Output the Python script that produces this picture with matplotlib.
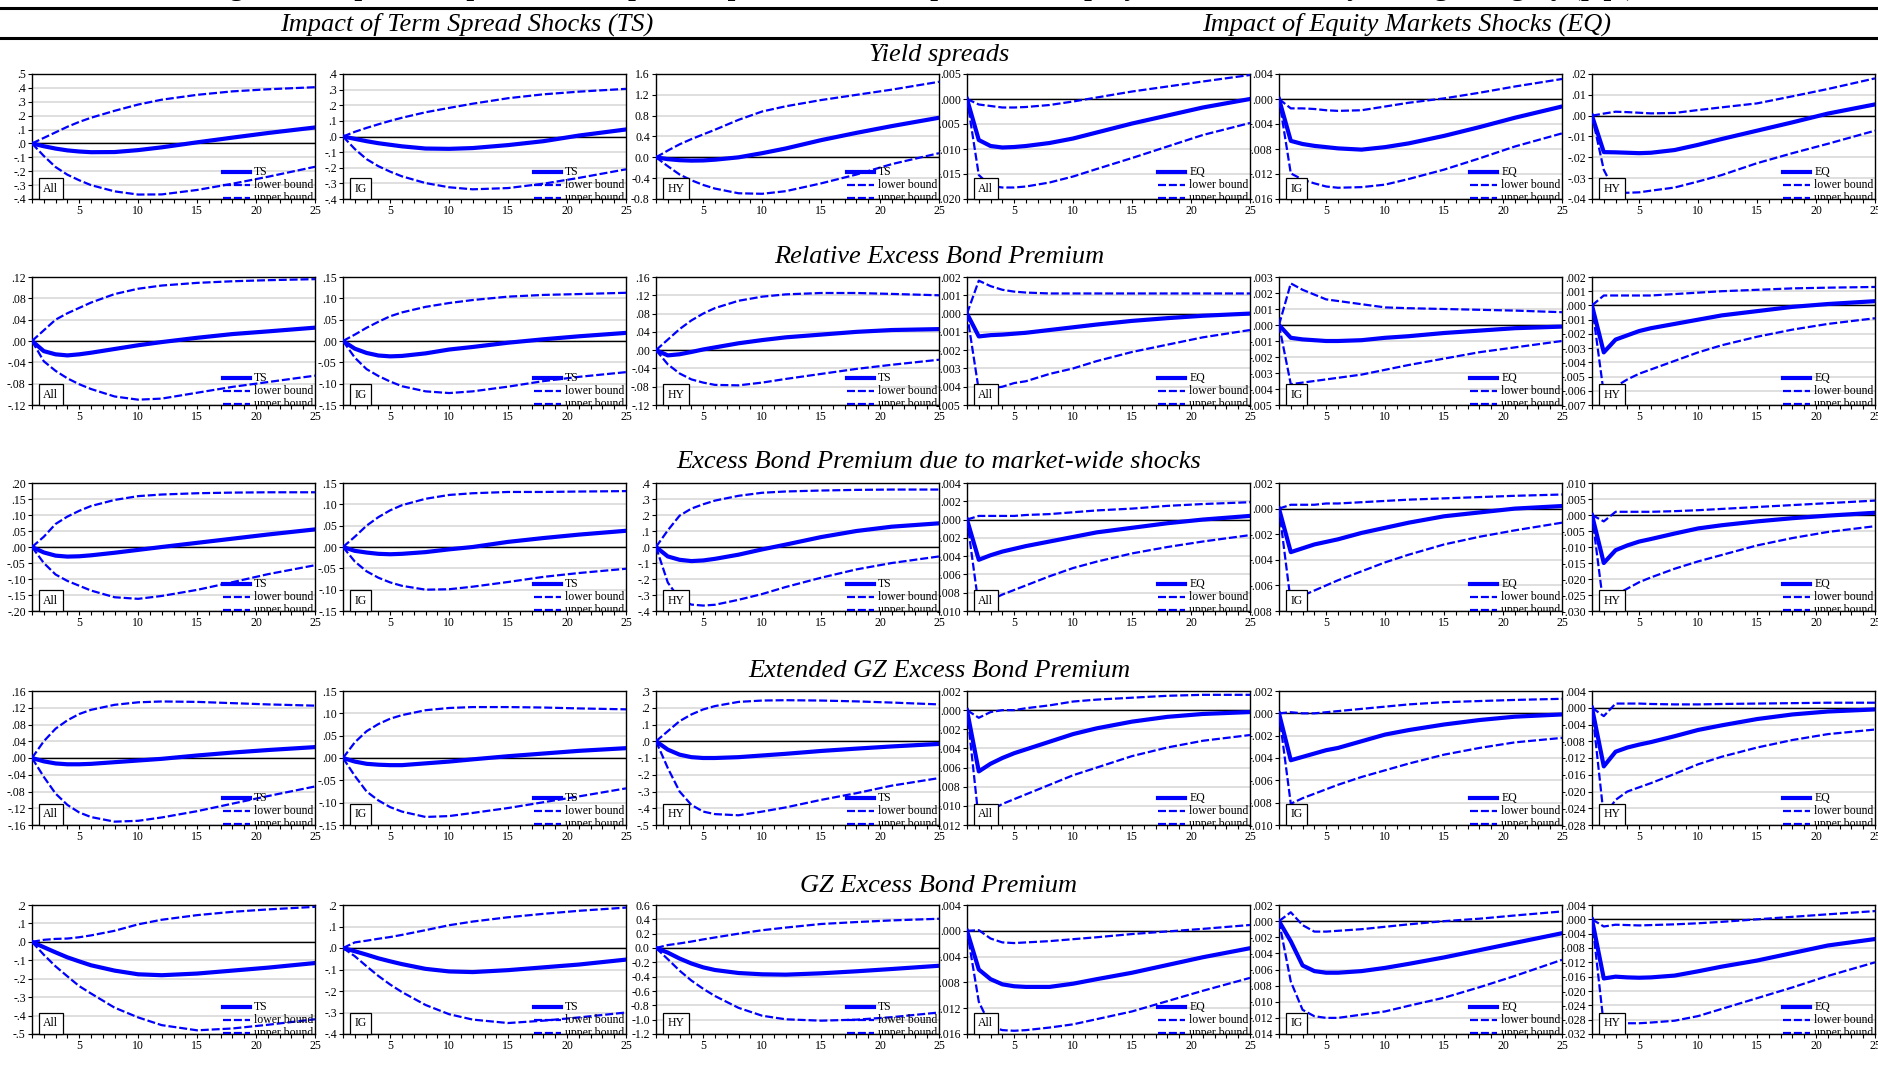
import matplotlib
matplotlib.use("Agg")
import matplotlib.pyplot as plt
from matplotlib.lines import Line2D
from matplotlib.ticker import FixedLocator, MultipleLocator, FuncFormatter
import numpy as np

plt.rcParams['font.family'] = ['Liberation Serif', 'DejaVu Serif']

horizon = [1, 2, 3, 4, 5, 6, 8, 10, 12, 15, 18, 21, 25]

groups = ["All", "IG", "HY", "All", "IG", "HY"]
shocks = ["TS", "TS", "TS", "EQ", "EQ", "EQ"]
row_titles = ["Yield spreads", "Relative Excess Bond Premium",
              "Excess Bond Premium due to market-wide shocks",
              "Extended GZ Excess Bond Premium", "GZ Excess Bond Premium"]

# ---- row 1: yield spreads
ys_resp = [
    [0, -0.02, -0.037, -0.05, -0.058, -0.063, -0.062, -0.048, -0.028, 0.008, 0.042, 0.075, 0.115],
    [0, -0.015, -0.03, -0.043, -0.053, -0.063, -0.077, -0.079, -0.074, -0.055, -0.03, 0.006, 0.045],
    [0, -0.035, -0.055, -0.063, -0.06, -0.045, 0.0, 0.08, 0.17, 0.33, 0.47, 0.6, 0.76],
    [0, -0.0082, -0.0094, -0.0097, -0.0096, -0.0094, -0.0088, -0.0079, -0.0067, -0.0049, -0.0033, -0.0017, 0.0],
    [0, -0.0067, -0.0072, -0.0075, -0.0077, -0.0079, -0.0081, -0.0077, -0.0071, -0.0059, -0.0045, -0.003, -0.0012],
    [0, -0.0175, -0.0176, -0.0178, -0.018, -0.0178, -0.0165, -0.014, -0.0112, -0.0072, -0.0032, 0.001, 0.0054],
]
ys_lo = [
    [0, -0.09, -0.17, -0.225, -0.265, -0.30, -0.345, -0.368, -0.367, -0.335, -0.29, -0.24, -0.168],
    [0, -0.08, -0.145, -0.19, -0.225, -0.255, -0.298, -0.325, -0.338, -0.33, -0.302, -0.265, -0.21],
    [0, -0.17, -0.33, -0.44, -0.53, -0.6, -0.69, -0.70, -0.65, -0.5, -0.33, -0.13, 0.08],
    [0, -0.0152, -0.0174, -0.0177, -0.0177, -0.0175, -0.0167, -0.0155, -0.014, -0.0118, -0.0095, -0.0072, -0.0048],
    [0, -0.0119, -0.0129, -0.0135, -0.014, -0.0142, -0.0141, -0.0137, -0.0128, -0.0113, -0.0095, -0.0076, -0.0055],
    [0, -0.026, -0.037, -0.037, -0.0368, -0.036, -0.0345, -0.0316, -0.0285, -0.0228, -0.018, -0.0135, -0.0072],
]
ys_up = [
    [0, 0.04, 0.08, 0.12, 0.155, 0.185, 0.235, 0.28, 0.315, 0.35, 0.375, 0.39, 0.405],
    [0, 0.03, 0.055, 0.078, 0.10, 0.12, 0.155, 0.183, 0.21, 0.245, 0.27, 0.287, 0.305],
    [0, 0.13, 0.25, 0.35, 0.44, 0.53, 0.72, 0.88, 0.98, 1.1, 1.2, 1.3, 1.45],
    [0, -0.0011, -0.0014, -0.0017, -0.0017, -0.0016, -0.0012, -0.0005, 0.0003, 0.0015, 0.0025, 0.0035, 0.0048],
    [0, -0.0015, -0.0015, -0.0016, -0.0018, -0.0019, -0.0018, -0.0012, -0.0006, 0.0001, 0.001, 0.002, 0.0032],
    [0, 0.001, 0.0019, 0.0017, 0.0014, 0.0011, 0.0013, 0.0027, 0.004, 0.0059, 0.0093, 0.0128, 0.0179],
]
ys_ylim = [(-0.4, 0.5), (-0.4, 0.4), (-0.8, 1.6), (-0.020, 0.005), (-0.016, 0.004), (-0.04, 0.02)]
ys_step = [0.1, 0.1, 0.4, 0.005, 0.004, 0.01]
ys_dec = [1, 1, 1, 3, 3, 2]
ys_lead0 = [False, False, True, False, False, False]

# ---- row 2: relative excess bond premium
rebp_resp = [
    [0, -0.019, -0.025, -0.027, -0.025, -0.022, -0.015, -0.008, -0.002, 0.006, 0.013, 0.018, 0.025],
    [0, -0.018, -0.028, -0.034, -0.036, -0.035, -0.029, -0.02, -0.014, -0.004, 0.004, 0.011, 0.019],
    [0, -0.0115, -0.009, -0.004, 0.0015, 0.006, 0.015, 0.022, 0.028, 0.034, 0.04, 0.044, 0.046],
    [0, -0.00125, -0.00118, -0.00115, -0.0011, -0.00105, -0.0009, -0.00075, -0.0006, -0.0004, -0.00025, -0.00012, 0.0],
    [0, -0.0008, -0.0009, -0.00095, -0.001, -0.001, -0.00095, -0.0008, -0.0007, -0.0005, -0.00035, -0.0002, -0.0001],
    [0, -0.0033, -0.0024, -0.0021, -0.0018, -0.0016, -0.0013, -0.001, -0.0007, -0.0004, -0.0001, 0.0001, 0.0003],
]
rebp_lo = [
    [0, -0.038, -0.056, -0.07, -0.081, -0.09, -0.104, -0.11, -0.108, -0.097, -0.086, -0.077, -0.065],
    [0, -0.039, -0.066, -0.082, -0.095, -0.106, -0.118, -0.122, -0.118, -0.107, -0.094, -0.084, -0.073],
    [0, -0.031, -0.051, -0.064, -0.071, -0.076, -0.077, -0.071, -0.063, -0.052, -0.041, -0.032, -0.021],
    [0, -0.0042, -0.0041, -0.004, -0.0038, -0.0037, -0.0033, -0.003, -0.0026, -0.0021, -0.0017, -0.0013, -0.0009],
    [0, -0.0037, -0.0036, -0.0035, -0.0034, -0.0033, -0.0031, -0.0028, -0.0025, -0.0021, -0.0017, -0.0014, -0.001],
    [0, -0.0062, -0.0057, -0.0052, -0.0048, -0.0045, -0.0039, -0.0033, -0.0028, -0.0022, -0.0017, -0.0013, -0.0009],
]
rebp_up = [
    [0, 0.02, 0.04, 0.052, 0.062, 0.072, 0.088, 0.098, 0.104, 0.109, 0.112, 0.114, 0.116],
    [0, 0.015, 0.031, 0.045, 0.058, 0.067, 0.08, 0.089, 0.096, 0.104, 0.108, 0.11, 0.113],
    [0, 0.023, 0.046, 0.065, 0.08, 0.092, 0.108, 0.117, 0.122, 0.125, 0.125, 0.123, 0.12],
    [0, 0.0018, 0.0015, 0.0013, 0.0012, 0.00115, 0.0011, 0.0011, 0.0011, 0.0011, 0.0011, 0.0011, 0.0011],
    [0, 0.0026, 0.0022, 0.0019, 0.0016, 0.0015, 0.0013, 0.0011, 0.00105, 0.001, 0.00095, 0.0009, 0.0008],
    [0, 0.0007, 0.0007, 0.0007, 0.0007, 0.0007, 0.0008, 0.0009, 0.001, 0.0011, 0.0012, 0.00125, 0.0013],
]
rebp_ylim = [(-0.12, 0.12), (-0.15, 0.15), (-0.12, 0.16), (-0.005, 0.002), (-0.005, 0.003), (-0.007, 0.002)]
rebp_step = [0.04, 0.05, 0.04, 0.001, 0.001, 0.001]
rebp_dec = [2, 2, 2, 3, 3, 3]
rebp_lead0 = [False] * 6

# ---- row 3: excess bond premium due to market-wide shocks
mebp_resp = [
    [0, -0.017, -0.027, -0.03, -0.029, -0.026, -0.018, -0.009, 0.0, 0.013, 0.026, 0.039, 0.055],
    [0, -0.009, -0.013, -0.016, -0.017, -0.016, -0.012, -0.0055, 0.0, 0.012, 0.021, 0.029, 0.038],
    [0, -0.059, -0.08, -0.088, -0.084, -0.074, -0.048, -0.015, 0.015, 0.062, 0.1, 0.127, 0.148],
    [0, -0.0044, -0.0039, -0.0035, -0.0032, -0.0029, -0.0024, -0.0019, -0.0014, -0.0009, -0.0004, 0.0, 0.0004],
    [0, -0.0034, -0.0031, -0.0028, -0.0026, -0.0024, -0.0019, -0.0015, -0.0011, -0.0006, -0.0003, 0.0, 0.0002],
    [0, -0.015, -0.011, -0.0095, -0.0083, -0.0075, -0.0058, -0.0042, -0.0032, -0.002, -0.001, -0.0002, 0.0007],
]
mebp_lo = [
    [0, -0.05, -0.086, -0.106, -0.121, -0.136, -0.157, -0.162, -0.153, -0.134, -0.11, -0.085, -0.057],
    [0, -0.034, -0.057, -0.072, -0.083, -0.091, -0.1, -0.099, -0.093, -0.082, -0.07, -0.061, -0.051],
    [0, -0.222, -0.325, -0.36, -0.366, -0.361, -0.33, -0.294, -0.25, -0.192, -0.14, -0.1, -0.059],
    [0, -0.0095, -0.0088, -0.0082, -0.0077, -0.0072, -0.0062, -0.0053, -0.0046, -0.0037, -0.003, -0.0024, -0.0017],
    [0, -0.0073, -0.0068, -0.0064, -0.006, -0.0056, -0.0049, -0.0042, -0.0036, -0.0028, -0.0022, -0.0017, -0.0011],
    [0, -0.029, -0.025, -0.023, -0.021, -0.0195, -0.0168, -0.0145, -0.0125, -0.0095, -0.0072, -0.0053, -0.0035],
]
mebp_up = [
    [0, 0.032, 0.072, 0.095, 0.113, 0.128, 0.147, 0.159, 0.164, 0.168, 0.17, 0.171, 0.171],
    [0, 0.024, 0.05, 0.07, 0.086, 0.098, 0.113, 0.122, 0.126, 0.129, 0.129, 0.13, 0.131],
    [0, 0.104, 0.196, 0.24, 0.267, 0.29, 0.32, 0.339, 0.347, 0.353, 0.357, 0.359, 0.359],
    [0, 0.0004, 0.0004, 0.0004, 0.0004, 0.0005, 0.0006, 0.0008, 0.001, 0.0012, 0.0015, 0.0017, 0.0019],
    [0, 0.0003, 0.0003, 0.0003, 0.0004, 0.0004, 0.0005, 0.0006, 0.0007, 0.0008, 0.0009, 0.001, 0.0011],
    [0, -0.002, 0.001, 0.001, 0.001, 0.001, 0.0012, 0.0015, 0.0019, 0.0025, 0.0031, 0.0037, 0.0045],
]
mebp_ylim = [(-0.2, 0.2), (-0.15, 0.15), (-0.4, 0.4), (-0.010, 0.004), (-0.008, 0.002), (-0.030, 0.010)]
mebp_step = [0.05, 0.05, 0.1, 0.002, 0.002, 0.005]
mebp_dec = [2, 2, 1, 3, 3, 3]
mebp_lead0 = [False] * 6

# ---- row 4: extended GZ excess bond premium
xgz_resp = [
    [0, -0.008, -0.013, -0.015, -0.015, -0.014, -0.01, -0.006, -0.002, 0.006, 0.013, 0.019, 0.026],
    [0, -0.008, -0.013, -0.015, -0.016, -0.016, -0.012, -0.008, -0.003, 0.004, 0.01, 0.016, 0.022],
    [0, -0.05, -0.08, -0.095, -0.1, -0.1, -0.095, -0.085, -0.075, -0.058, -0.044, -0.031, -0.016],
    [0, -0.0064, -0.0056, -0.005, -0.0045, -0.0041, -0.0033, -0.0025, -0.0019, -0.0012, -0.0007, -0.0004, -0.0002],
    [0, -0.0042, -0.0039, -0.0036, -0.0033, -0.0031, -0.0025, -0.0019, -0.0015, -0.001, -0.0006, -0.0003, -0.0001],
    [0, -0.014, -0.0105, -0.0095, -0.0088, -0.0082, -0.0068, -0.0053, -0.0042, -0.0027, -0.0016, -0.0009, -0.0004],
]
xgz_lo = [
    [0, -0.045, -0.085, -0.112, -0.13, -0.141, -0.152, -0.15, -0.142, -0.127, -0.109, -0.091, -0.068],
    [0, -0.04, -0.075, -0.095, -0.11, -0.12, -0.132, -0.13, -0.123, -0.112, -0.099, -0.086, -0.068],
    [0, -0.16, -0.3, -0.38, -0.42, -0.435, -0.442, -0.42, -0.395, -0.35, -0.31, -0.265, -0.22],
    [0, -0.0115, -0.0105, -0.0098, -0.0093, -0.0088, -0.0078, -0.0068, -0.006, -0.0048, -0.0039, -0.0032, -0.0026],
    [0, -0.0081, -0.0076, -0.0072, -0.0068, -0.0064, -0.0057, -0.0051, -0.0045, -0.0037, -0.0031, -0.0026, -0.0022],
    [0, -0.026, -0.022, -0.02, -0.019, -0.018, -0.0158, -0.0135, -0.0117, -0.0095, -0.0077, -0.0063, -0.0052],
]
xgz_up = [
    [0, 0.04, 0.07, 0.09, 0.105, 0.115, 0.127, 0.133, 0.135, 0.134, 0.131, 0.128, 0.125],
    [0, 0.035, 0.06, 0.076, 0.088, 0.096, 0.107, 0.112, 0.114, 0.114, 0.113, 0.111, 0.109],
    [0, 0.06, 0.12, 0.16, 0.19, 0.21, 0.235, 0.243, 0.245, 0.243, 0.238, 0.231, 0.22],
    [0, -0.0008, -0.0002, 0.0, 0.0, 0.0002, 0.0005, 0.0009, 0.0011, 0.0013, 0.0015, 0.0016, 0.0016],
    [0, 0.0001, 0.0, 0.0, 0.0001, 0.0002, 0.0004, 0.0006, 0.0008, 0.001, 0.0011, 0.0012, 0.0013],
    [0, -0.002, 0.001, 0.001, 0.001, 0.0009, 0.0008, 0.0008, 0.0009, 0.001, 0.0011, 0.0012, 0.0012],
]
xgz_ylim = [(-0.16, 0.16), (-0.15, 0.15), (-0.5, 0.3), (-0.012, 0.002), (-0.010, 0.002), (-0.028, 0.004)]
xgz_step = [0.04, 0.05, 0.1, 0.002, 0.002, 0.004]
xgz_dec = [2, 2, 1, 3, 3, 3]
xgz_lead0 = [False] * 6

# ---- row 5: GZ excess bond premium
gz_resp = [
    [0, -0.029, -0.057, -0.084, -0.106, -0.127, -0.156, -0.176, -0.181, -0.172, -0.156, -0.14, -0.115],
    [0, -0.015, -0.031, -0.048, -0.062, -0.075, -0.097, -0.109, -0.112, -0.103, -0.09, -0.077, -0.054],
    [0, -0.064, -0.147, -0.216, -0.27, -0.307, -0.349, -0.367, -0.372, -0.353, -0.325, -0.293, -0.248],
    [0, -0.006, -0.0075, -0.0083, -0.0086, -0.0087, -0.0087, -0.0082, -0.0075, -0.0065, -0.0053, -0.0041, -0.0027],
    [0, -0.0025, -0.0055, -0.0062, -0.0064, -0.0064, -0.0062, -0.0058, -0.0053, -0.0045, -0.0036, -0.0027, -0.0015],
    [0, -0.0165, -0.016, -0.0162, -0.0163, -0.0162, -0.0157, -0.0145, -0.0132, -0.0115, -0.0094, -0.0073, -0.0055],
]
gz_lo = [
    [0, -0.07, -0.133, -0.187, -0.24, -0.28, -0.357, -0.41, -0.452, -0.48, -0.47, -0.45, -0.42],
    [0, -0.038, -0.085, -0.13, -0.17, -0.205, -0.265, -0.308, -0.333, -0.349, -0.338, -0.323, -0.30],
    [0, -0.156, -0.316, -0.454, -0.569, -0.67, -0.835, -0.945, -0.995, -1.014, -1.0, -0.965, -0.9],
    [0, -0.011, -0.0148, -0.0154, -0.0155, -0.0154, -0.015, -0.0145, -0.0137, -0.0125, -0.0109, -0.0093, -0.0073],
    [0, -0.0075, -0.011, -0.0118, -0.012, -0.012, -0.0116, -0.0112, -0.0105, -0.0095, -0.0082, -0.0068, -0.0048],
    [0, -0.0295, -0.029, -0.029, -0.029, -0.0288, -0.0283, -0.027, -0.025, -0.022, -0.019, -0.0158, -0.012],
]
gz_up = [
    [0, 0.011, 0.016, 0.018, 0.025, 0.035, 0.06, 0.095, 0.12, 0.145, 0.163, 0.176, 0.19],
    [0, 0.026, 0.034, 0.043, 0.051, 0.061, 0.083, 0.106, 0.123, 0.143, 0.159, 0.173, 0.188],
    [0, 0.041, 0.064, 0.09, 0.12, 0.147, 0.2, 0.248, 0.285, 0.335, 0.362, 0.385, 0.408],
    [0, 0.0001, -0.0012, -0.0018, -0.0019, -0.0018, -0.0016, -0.0013, -0.001, -0.0005, -0.0001, 0.0003, 0.0009],
    [0, 0.0011, -0.0005, -0.0013, -0.0013, -0.0012, -0.001, -0.0007, -0.0004, 0.0, 0.0003, 0.0007, 0.0012],
    [0, -0.002, -0.0015, -0.0016, -0.0017, -0.0016, -0.0014, -0.0011, -0.0007, 0.0, 0.0007, 0.0014, 0.0023],
]
gz_ylim = [(-0.5, 0.2), (-0.4, 0.2), (-1.2, 0.6), (-0.016, 0.004), (-0.014, 0.002), (-0.032, 0.004)]
gz_step = [0.1, 0.1, 0.2, 0.004, 0.002, 0.004]
gz_dec = [1, 1, 1, 3, 3, 3]
gz_lead0 = [False, False, True, False, False, False]

rows = [
    (ys_resp, ys_lo, ys_up, ys_ylim, ys_step, ys_dec, ys_lead0),
    (rebp_resp, rebp_lo, rebp_up, rebp_ylim, rebp_step, rebp_dec, rebp_lead0),
    (mebp_resp, mebp_lo, mebp_up, mebp_ylim, mebp_step, mebp_dec, mebp_lead0),
    (xgz_resp, xgz_lo, xgz_up, xgz_ylim, xgz_step, xgz_dec, xgz_lead0),
    (gz_resp, gz_lo, gz_up, gz_ylim, gz_step, gz_dec, gz_lead0),
]

W, H = 1878, 1074
fig = plt.figure(figsize=(W / 100, H / 100), dpi=100)

# panel geometry in pixels
col_left = [32, 343, 656, 967, 1279, 1592]
panel_w = 283
row_top = [74, 277, 483, 691, 905]
row_h = [125, 128, 128, 134, 129]
title_y = [55, 257, 462, 671, 886]

BLUE = "#0000ff"
TICK_FS = 8.5
DASH = (3.6, 1.3)


def eviews_fmt(dec, lead0):
    def f(v, pos):
        if abs(v) < 1e-12:
            v = 0.0
        s = f"{v:.{dec}f}"
        if not lead0:
            if s.startswith("0."):
                s = s[1:]
            elif s.startswith("-0."):
                s = "-" + s[2:]
        return s
    return FuncFormatter(f)


def add_legend(ax, shock):
    items = [(shock, "-", 3.0), ("lower bound", "--", 1.6), ("upper bound", "--", 1.6)]
    h = ax.bbox.height
    for k, (lab, ls, lw) in enumerate(items):
        y = (27 - 13 * k) / h
        ln = Line2D([0.675, 0.77], [y, y], transform=ax.transAxes, color=BLUE,
                    lw=lw, ls=ls, clip_on=True, zorder=6)
        if ls == "--":
            ln.set_dashes(DASH)
        ax.add_line(ln)
        ax.text(0.785, y, lab, transform=ax.transAxes, va="center", ha="left",
                fontsize=TICK_FS, clip_on=True, zorder=6)


for i, (resp, lo, up, ylim, step, dec, lead0) in enumerate(rows):
    for j in range(6):
        rect = [col_left[j] / W, 1 - (row_top[i] + row_h[i]) / H, panel_w / W, row_h[i] / H]
        ax = fig.add_axes(rect)
        ax.set_zorder(10 - j)

        ax.plot(horizon, resp[j], color=BLUE, lw=3.0, zorder=4, solid_joinstyle="round")
        ax.plot(horizon, lo[j], color=BLUE, lw=1.6, dashes=DASH, zorder=4)
        ax.plot(horizon, up[j], color=BLUE, lw=1.6, dashes=DASH, zorder=4)
        ax.axhline(0, color="black", lw=1.0, zorder=3)

        ax.set_xlim(1, 25)
        ax.set_ylim(*ylim[j])
        yt = np.round(np.arange(ylim[j][0], ylim[j][1] + step[j] / 2, step[j]), 6)
        ax.yaxis.set_major_locator(FixedLocator(yt))
        ax.yaxis.set_major_formatter(eviews_fmt(dec[j], lead0[j]))
        ax.xaxis.set_major_locator(FixedLocator([5, 10, 15, 20, 25]))
        ax.xaxis.set_minor_locator(MultipleLocator(1))
        ax.grid(axis="y", color="#d6d6d6", lw=1.1, zorder=1)
        ax.set_axisbelow(True)
        ax.tick_params(axis="both", which="major", labelsize=TICK_FS, length=3,
                       width=0.8, pad=1.5, direction="out")
        ax.tick_params(axis="x", which="minor", length=3, width=0.8, direction="out")
        for sp in ax.spines.values():
            sp.set_linewidth(1.0)
            sp.set_color("black")

        ax.text(0.04, 0.035, groups[j], transform=ax.transAxes, ha="left", va="bottom",
                fontsize=TICK_FS, zorder=7,
                bbox=dict(boxstyle="square,pad=0.4", fc="white", ec="black", lw=0.9))
        add_legend(ax, shocks[j])

    fig.text(0.5, 1 - title_y[i] / H, row_titles[i], ha="center", va="center",
             fontsize=19, style="italic")

# header (the figure caption is cut off at the top edge, as in the source)
fig.text(0.49, 1 + 12 / H, "Figure 5: Impulse Responses of Corporate Spreads to Term Spread "
         "and Equity Market Shocks by Rating Category (p.p.)",
         ha="center", va="center", fontsize=20, fontweight="bold")
for yy in (8, 38):
    fig.add_artist(Line2D([0, 1], [1 - yy / H, 1 - yy / H], transform=fig.transFigure,
                          color="black", lw=2.2))
fig.text(467 / W, 1 - 24 / H, "Impact of Term Spread Shocks (TS)", ha="center",
         va="center", fontsize=19, style="italic")
fig.text(1407 / W, 1 - 24 / H, "Impact of Equity Markets Shocks (EQ)", ha="center",
         va="center", fontsize=19, style="italic")

fig.savefig("out.png", dpi=100)
